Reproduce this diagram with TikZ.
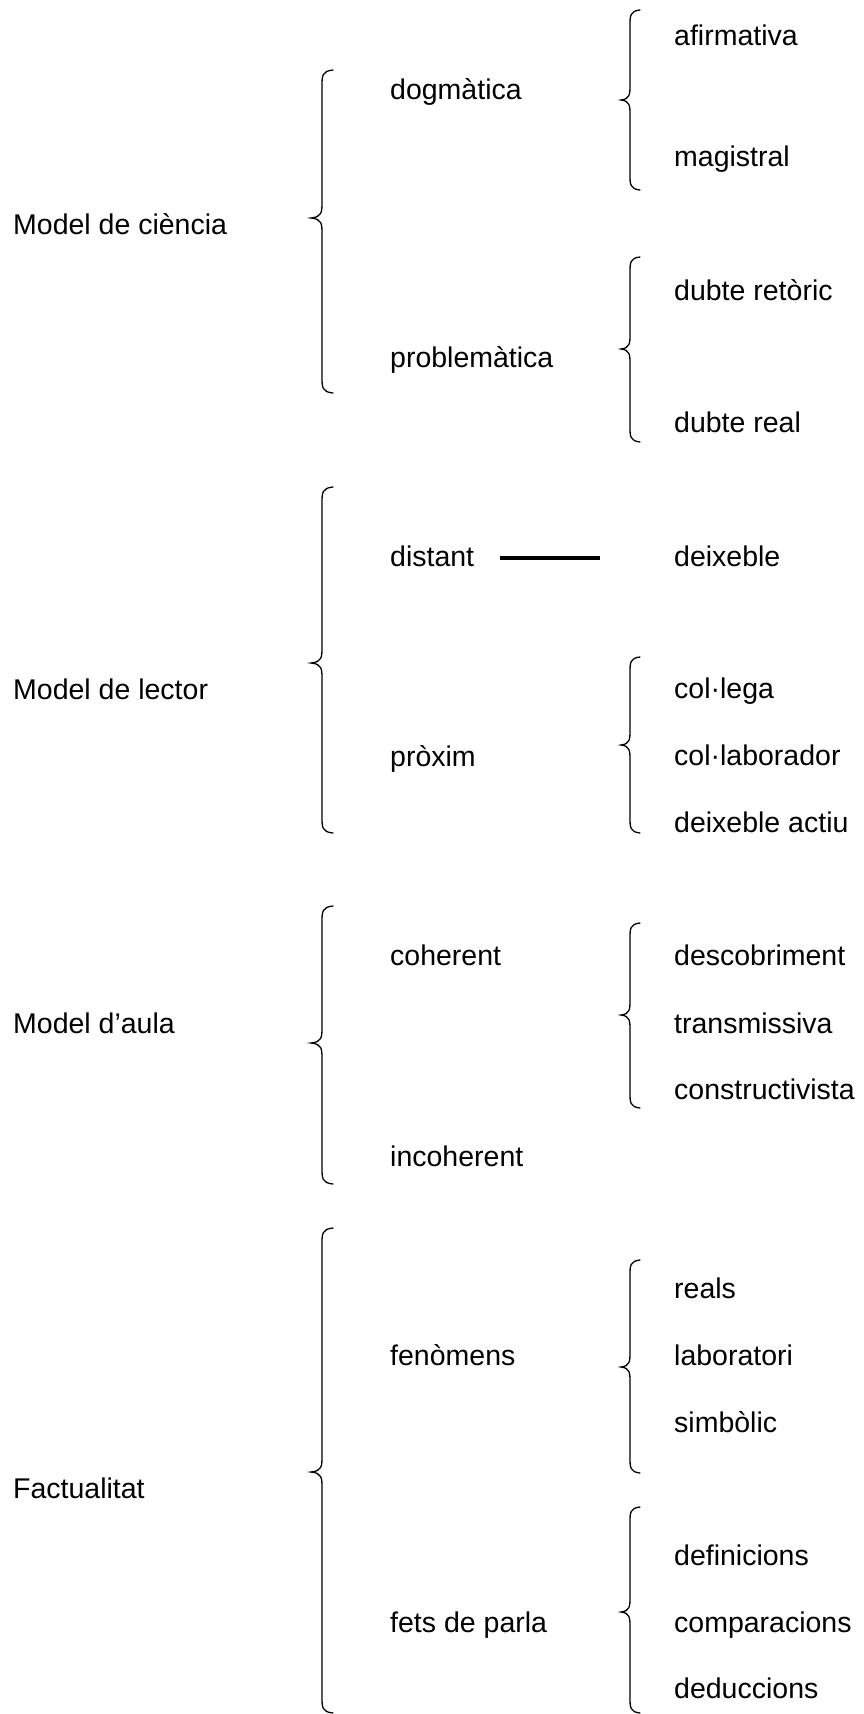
\documentclass[tikz,border=0pt]{standalone}
\usepackage{fontspec}
\setmainfont{Liberation Sans}
\begin{document}
\begin{tikzpicture}[x=1pt,y=-1pt,
  lbl/.style={anchor=base west,inner sep=0pt,font=\fontsize{28.5}{34}\selectfont},
  brace/.style={line width=1.3pt,line cap=round}]
\useasboundingbox (0,0) rectangle (863,1714);

% curly braces opening to the right: top end, tip, bottom end
\newcommand\bigbrace[3]{%
  \draw[brace] (333,#1) .. controls (322,#1+1) and (322,#1+6) .. (322,#1+16)
    -- (322,#2-16) .. controls (322,#2-6) and (322,#2-1) .. (311,#2)
    .. controls (322,#2+1) and (322,#2+6) .. (322,#2+16)
    -- (322,#3-16) .. controls (322,#3-6) and (322,#3-1) .. (333,#3);}
\newcommand\smallbrace[3]{%
  \draw[brace] (640,#1) .. controls (630,#1+1) and (630,#1+6) .. (630,#1+15)
    -- (630,#2-15) .. controls (630,#2-6) and (630,#2-1) .. (621,#2)
    .. controls (630,#2+1) and (630,#2+6) .. (630,#2+15)
    -- (630,#3-15) .. controls (630,#3-6) and (630,#3-1) .. (640,#3);}

% Model de ciència
\node[lbl] (ciencia) at (13,234) {Model de ciència};
\node[lbl] (dogmatica) at (390,99) {dogmàtica};
\node[lbl] (problematica) at (390,367) {problemàtica};
\node[lbl] (afirmativa) at (674,45) {afirmativa};
\node[lbl] (magistral) at (674,166) {magistral};
\node[lbl] (retoric) at (674,300) {dubte retòric};
\node[lbl] (real) at (674,432) {dubte real};
\bigbrace{70}{218}{393}
\smallbrace{10}{100}{190}
\smallbrace{257}{349}{442}

% Model de lector
\node[lbl] (lector) at (13,699) {Model de lector};
\node[lbl] (distant) at (390,566) {distant};
\node[lbl] (proxim) at (390,766) {pròxim};
\node[lbl] (deixeble) at (674,566) {deixeble};
\node[lbl] (collega) at (674,698) {col·lega};
\node[lbl] (collaborador) at (674,765) {col·laborador};
\node[lbl] (actiu) at (674,832) {deixeble actiu};
\bigbrace{487}{663}{833}
\smallbrace{657}{745}{833}
\draw[line width=3.2pt] ([xshift=26pt,yshift=8pt]distant.base east)
  -- ([xshift=-74pt,yshift=8pt]deixeble.base west);

% Model d'aula
\node[lbl] (aula) at (13,1033) {Model d’aula};
\node[lbl] (coherent) at (390,965) {coherent};
\node[lbl] (incoherent) at (390,1166) {incoherent};
\node[lbl] (descobriment) at (674,965) {descobriment};
\node[lbl] (transmissiva) at (674,1033) {transmissiva};
\node[lbl] (constructivista) at (674,1099) {constructivista};
\bigbrace{906}{1043}{1184}
\smallbrace{923}{1015}{1108}

% Factualitat
\node[lbl] (factualitat) at (13,1498) {Factualitat};
\node[lbl] (fenomens) at (390,1365) {fenòmens};
\node[lbl] (fets) at (390,1632) {fets de parla};
\node[lbl] (reals) at (674,1298) {reals};
\node[lbl] (laboratori) at (674,1365) {laboratori};
\node[lbl] (simbolic) at (674,1432) {simbòlic};
\node[lbl] (definicions) at (674,1565) {definicions};
\node[lbl] (comparacions) at (674,1632) {comparacions};
\node[lbl] (deduccions) at (674,1698) {deduccions};
\bigbrace{1228}{1472}{1713}
\smallbrace{1260}{1367}{1473}
\smallbrace{1507}{1612}{1713}
\end{tikzpicture}
\end{document}
